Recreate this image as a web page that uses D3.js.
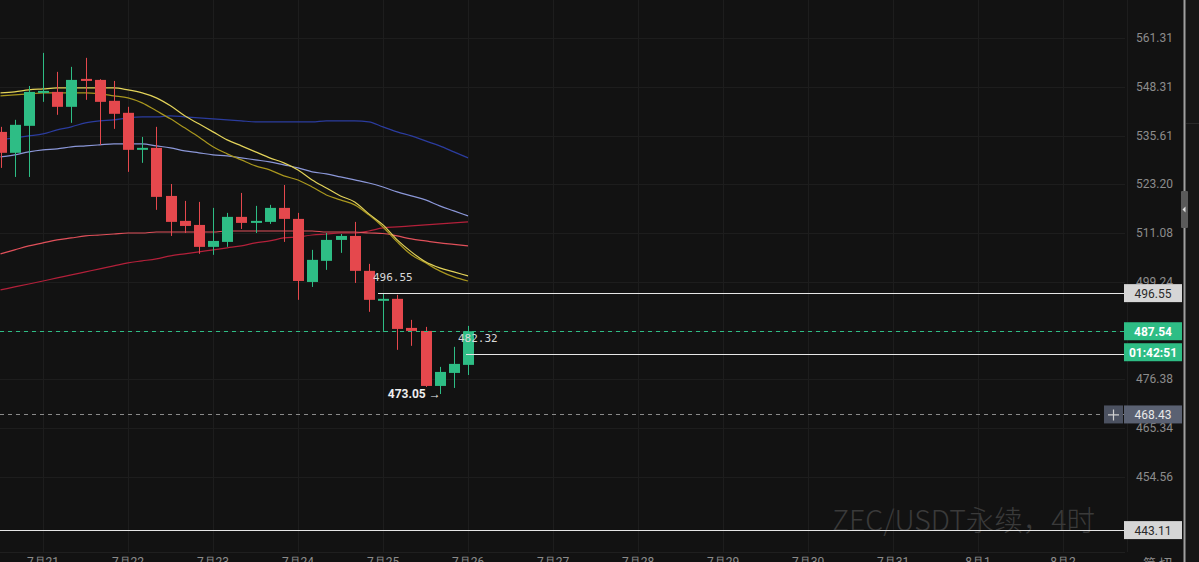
<!DOCTYPE html>
<head>
    <meta charset="utf-8">
    <title>ZEC/USDT 4h</title>
    <script src="https://d3js.org/d3.v7.min.js"></script>
    <style>
        body { margin: 0; background: #121212; }
        svg { display: block; }
    </style>
</head>
<body>
    <svg></svg>
</body>

<script>
    var vWidth = 1199;
    var vHeight = 562;

    // candles, 4h each, first one is 7/20 12:00
    var opens  = [536.55, 531.18, 538.11, 546.70, 546.96, 543.05, 550.39, 550.12, 544.62, 541.49, 531.94, 532.45, 520.29, 514.09, 513.09, 507.71, 508.92, 515.08, 513.59, 513.84, 517.31, 514.58, 499.22, 504.31, 509.41, 510.38, 501.89, 494.95, 495.19, 488.32, 487.61, 474.89, 477.87, 479.72];
    var highs  = [537.85, 539.67, 548.52, 557.31, 552.25, 553.58, 555.98, 550.30, 549.85, 543.05, 535.25, 537.85, 523.28, 519.05, 518.80, 517.31, 516.07, 521.04, 517.81, 518.06, 523.03, 516.07, 506.98, 511.10, 510.86, 513.84, 503.58, 496.55, 496.14, 490.21, 488.56, 479.26, 483.90, 488.79];
    var lows   = [527.35, 525.06, 525.06, 544.35, 540.97, 538.89, 544.88, 533.21, 537.33, 526.34, 528.63, 516.82, 510.38, 511.10, 506.01, 505.77, 507.71, 512.10, 511.10, 513.34, 508.92, 494.95, 498.03, 502.13, 506.25, 498.98, 492.11, 487.38, 483.20, 484.13, 474.66, 473.05, 474.43, 477.40];
    var closes = [531.18, 538.37, 546.96, 547.22, 543.05, 550.12, 549.85, 544.35, 541.23, 531.94, 532.45, 520.05, 513.84, 512.84, 507.71, 509.16, 515.08, 513.59, 514.09, 517.31, 514.58, 499.46, 504.55, 509.41, 510.38, 501.89, 494.95, 495.19, 488.08, 487.61, 474.89, 478.10, 479.95, 487.54];

    // moving averages
    var maFast = [546.70, 546.96, 547.48, 547.74, 548.00, 548.00, 548.00, 548.00, 548.00, 547.48, 546.70, 545.40, 543.31, 540.71, 538.63, 536.55, 534.49, 532.96, 531.43, 529.90, 528.63, 526.84, 524.30, 522.28, 520.29, 518.80, 515.82, 513.09, 509.41, 506.49, 504.07, 502.61, 501.64, 500.67];
    var maMid = [545.92, 546.18, 546.44, 546.70, 546.70, 546.70, 546.70, 546.44, 545.92, 545.40, 544.09, 542.01, 539.93, 537.59, 535.25, 532.71, 530.92, 529.39, 527.86, 526.84, 525.32, 524.30, 522.53, 520.54, 519.30, 518.06, 515.57, 512.59, 508.92, 505.77, 503.83, 501.89, 500.43, 499.46];
    var maSlow = [534.49, 535.00, 535.51, 536.03, 537.07, 537.85, 538.89, 539.41, 539.67, 540.19, 540.45, 540.45, 540.71, 540.45, 540.19, 539.93, 539.67, 539.41, 539.15, 539.15, 539.15, 539.15, 539.15, 539.41, 539.41, 539.41, 539.15, 537.85, 536.55, 535.51, 534.23, 532.96, 531.43, 529.90];
    var maLong = [530.16, 530.67, 531.43, 531.94, 532.20, 532.71, 532.96, 533.21, 533.47, 533.47, 533.47, 532.96, 532.45, 531.69, 531.18, 530.67, 530.41, 529.90, 529.39, 528.88, 528.12, 527.35, 526.34, 525.83, 525.06, 524.30, 523.54, 522.53, 521.29, 520.29, 519.30, 517.81, 516.57, 515.33];
    var maRed = [506.01, 506.98, 507.95, 508.68, 509.41, 509.89, 510.38, 510.62, 510.86, 511.10, 511.10, 511.35, 511.35, 511.35, 511.35, 511.35, 511.60, 511.60, 511.60, 511.60, 511.60, 511.60, 511.60, 511.35, 511.35, 511.35, 511.10, 510.98, 510.38, 509.65, 509.16, 508.68, 508.32, 507.95];
    var maCrimson = [497.32, 498.03, 498.74, 499.46, 500.19, 500.91, 501.64, 502.37, 503.10, 503.83, 504.31, 504.80, 505.53, 506.01, 506.49, 506.98, 507.47, 507.95, 508.68, 509.16, 509.89, 510.13, 510.62, 510.86, 511.10, 511.10, 511.60, 512.35, 512.59, 512.84, 513.09, 513.34, 513.59, 513.84];

    var priceTicks = [561.31, 548.31, 535.61, 523.20, 511.08, 499.24, 487.68, 476.38, 465.34, 454.56];
    var dateLabels = ['7月21', '7月22', '7月23', '7月24', '7月25', '7月26', '7月27', '7月28', '7月29', '7月30', '7月31', '8月1', '8月2'];

    var lastPrice = 487.54;
    var countdown = '01:42:51';
    var crossPrice = 468.43;
    var hLines = [496.55, 482.32, 443.11];
    var lowLabel = 473.05;

    var plotRight = 1125;
    var axisRight = 1184;
    var green = '#2ebd85';
    var red = '#e5484d';

    var svg = d3.select('svg').attr('width', vWidth).attr('height', vHeight);

    svg.append('rect').attr('width', vWidth).attr('height', vHeight).attr('fill', '#121212');
    svg.append('rect').attr('x', axisRight).attr('width', vWidth - axisRight).attr('height', vHeight).attr('fill', '#161616');

    // scales: candle index -> x, log price -> y
    var x = d3.scaleLinear().domain([0, 1]).range([0.5, 14.667]);
    var y = d3.scaleLog().domain([454.56, 561.31]).range([477, 38]);

    // grid
    var grid = svg.append('g');
    grid.selectAll('.hg').data(priceTicks).enter().append('line')
        .attr('x1', 0).attr('x2', plotRight)
        .attr('y1', function (d) { return Math.round(y(d)) + 0.5; })
        .attr('y2', function (d) { return Math.round(y(d)) + 0.5; })
        .attr('stroke', '#1d1d1d');
    grid.selectAll('.vg').data(dateLabels).enter().append('line')
        .attr('x1', function (d, i) { return Math.round(x(3 + 6 * i)) + 0.5; })
        .attr('x2', function (d, i) { return Math.round(x(3 + 6 * i)) + 0.5; })
        .attr('y1', 0).attr('y2', 552)
        .attr('stroke', '#1d1d1d');
    grid.append('line').attr('x1', 0).attr('x2', plotRight).attr('y1', 552.5).attr('y2', 552.5).attr('stroke', '#1f1f1f');
    grid.append('line').attr('x1', plotRight + 2.5).attr('x2', plotRight + 2.5).attr('y1', 0).attr('y2', 552).attr('stroke', '#1d1d1d');

    // watermark
    svg.append('text')
        .attr('x', 832).attr('y', 531)
        .style('font-family', "'Noto Sans CJK SC', 'Noto Sans', sans-serif")
        .style('font-size', '28.5px').style('font-weight', 300)
        .attr('fill', '#3a3a3a')
        .text('ZEC/USDT永续，4时');

    // moving averages
    var line = d3.line()
        .x(function (d, i) { return x(i); })
        .y(function (d) { return y(d); })
        .curve(d3.curveMonotoneX);
    var maSeries = [
        { v: maCrimson, c: '#b3203a' },
        { v: maRed, c: '#e0505a' },
        { v: maLong, c: '#8b97d8' },
        { v: maSlow, c: '#2b3c9e' },
        { v: maMid, c: '#a8961e' },
        { v: maFast, c: '#e3d35a' }
    ];
    svg.append('g').selectAll('path').data(maSeries).enter().append('path')
        .attr('d', function (d) { return line(d.v); })
        .attr('fill', 'none')
        .attr('stroke', function (d) { return d.c; })
        .attr('stroke-width', 1.2);

    // candles
    var candles = svg.append('g').selectAll('g').data(opens).enter().append('g');
    candles.append('line')
        .attr('x1', function (d, i) { return Math.round(x(i)) + 0.5; })
        .attr('x2', function (d, i) { return Math.round(x(i)) + 0.5; })
        .attr('y1', function (d, i) { return y(highs[i]); })
        .attr('y2', function (d, i) { return y(lows[i]); })
        .attr('stroke', function (d, i) { return closes[i] >= opens[i] ? green : red; });
    candles.append('rect')
        .attr('x', function (d, i) { return Math.round(x(i)) - 5; })
        .attr('width', 11)
        .attr('y', function (d, i) { return y(Math.max(opens[i], closes[i])); })
        .attr('height', function (d, i) { return Math.max(2, Math.abs(y(opens[i]) - y(closes[i]))); })
        .attr('fill', function (d, i) { return closes[i] >= opens[i] ? green : red; });

    // horizontal marker lines
    var n = opens.length;
    svg.append('line')
        .attr('x1', 0).attr('x2', plotRight)
        .attr('y1', Math.round(y(lastPrice)) + 0.5).attr('y2', Math.round(y(lastPrice)) + 0.5)
        .attr('stroke', green).attr('stroke-dasharray', '4,4');
    svg.append('line')
        .attr('x1', 0).attr('x2', plotRight)
        .attr('y1', Math.round(y(crossPrice)) + 0.5).attr('y2', Math.round(y(crossPrice)) + 0.5)
        .attr('stroke', '#8a8a8a').attr('stroke-dasharray', '4,4');

    var lineStart = [x(n - 7) - 5, x(n - 1) - 2, 0];
    svg.selectAll('.hl').data(hLines).enter().append('line')
        .attr('x1', function (d, i) { return lineStart[i]; })
        .attr('x2', plotRight)
        .attr('y1', function (d) { return Math.round(y(d)) + 0.5; })
        .attr('y2', function (d) { return Math.round(y(d)) + 0.5; })
        .attr('stroke', '#e6e6e6');

    var mono = "'DejaVu Sans Mono', monospace";
    svg.append('text').attr('x', x(n - 7) - 10).attr('y', y(hLines[0]) - 12)
        .style('font-family', mono).style('font-size', '11px').attr('fill', '#d8d8d8')
        .text(hLines[0].toFixed(2));
    svg.append('text').attr('x', x(n - 1) - 10).attr('y', y(hLines[1]) - 12)
        .style('font-family', mono).style('font-size', '11px').attr('fill', '#d8d8d8')
        .text(hLines[1].toFixed(2));
    svg.append('text').attr('x', x(n - 3) + 1).attr('y', y(lowLabel) + 4)
        .attr('text-anchor', 'end')
        .style('font-family', "'Roboto', sans-serif").style('font-size', '12px').style('font-weight', 'bold')
        .attr('fill', '#eeeeee')
        .text(lowLabel.toFixed(2) + ' →');

    // price axis labels
    var axisFont = "'Roboto', 'Liberation Sans', sans-serif";
    svg.append('g').selectAll('text').data(priceTicks).enter().append('text')
        .attr('x', 1136).attr('y', function (d) { return y(d) + 4; })
        .style('font-family', axisFont).style('font-size', '12px')
        .attr('fill', '#8c8c8c')
        .text(function (d) { return d.toFixed(2); });

    // date labels
    svg.append('g').selectAll('text').data(dateLabels).enter().append('text')
        .attr('x', function (d, i) { return x(3 + 6 * i); })
        .attr('y', 566)
        .attr('text-anchor', 'middle')
        .style('font-family', axisFont).style('font-size', '12px')
        .attr('fill', '#8c8c8c')
        .text(function (d) { return d; });

    // boxed price labels on the axis
    function tag(py, label, bg, fg, bold) {
        svg.append('rect').attr('x', plotRight - 1).attr('y', py - 9).attr('width', 58).attr('height', 18).attr('fill', bg);
        svg.append('text').attr('x', plotRight + 28).attr('y', py + 4.5)
            .attr('text-anchor', 'middle')
            .style('font-family', axisFont).style('font-size', '12px').style('font-weight', bold ? 'bold' : 'normal')
            .attr('fill', fg).text(label);
    }
    tag(y(hLines[0]), hLines[0].toFixed(2), '#d6d6d6', '#2a2a2a', false);
    tag(y(lastPrice), lastPrice.toFixed(2), green, '#ffffff', true);
    tag(y(lastPrice) + 21, countdown, green, '#ffffff', true);
    tag(y(crossPrice), crossPrice.toFixed(2), '#5a6172', '#e8e8e8', false);
    tag(y(hLines[2]), hLines[2].toFixed(2), '#d6d6d6', '#2a2a2a', false);

    // crosshair "+" button
    var cy = y(crossPrice);
    svg.append('rect').attr('x', plotRight - 21).attr('y', cy - 9).attr('width', 19).attr('height', 18).attr('fill', '#4b5160');
    svg.append('path').attr('d', 'M' + (plotRight - 17) + ',' + (cy + 0.5) + 'h11M' + (plotRight - 11.5) + ',' + (cy - 5) + 'v11')
        .attr('stroke', '#d0d0d0').attr('stroke-width', 1.2);

    // right border + collapse tab
    svg.append('line').attr('x1', axisRight + 0.5).attr('x2', axisRight + 0.5).attr('y1', 0).attr('y2', vHeight)
        .attr('stroke', '#a0a0a0').attr('stroke-width', 2);
    svg.append('line').attr('x1', axisRight + 2).attr('x2', vWidth).attr('y1', 123.5).attr('y2', 123.5).attr('stroke', '#2a2a2a');
    svg.append('rect').attr('x', axisRight - 3).attr('y', 191).attr('width', 7).attr('height', 37).attr('rx', 1).attr('fill', '#5a5a5a');
    svg.append('path').attr('d', 'M' + (axisRight - 1.5) + ',209.5l3,-3v6z').attr('fill', '#e0e0e0');

    svg.append('text').attr('x', 1143).attr('y', 568)
        .style('font-family', "'Noto Sans CJK SC', sans-serif").style('font-size', '13px')
        .attr('fill', '#8c8c8c').text('简 切');
</script>
